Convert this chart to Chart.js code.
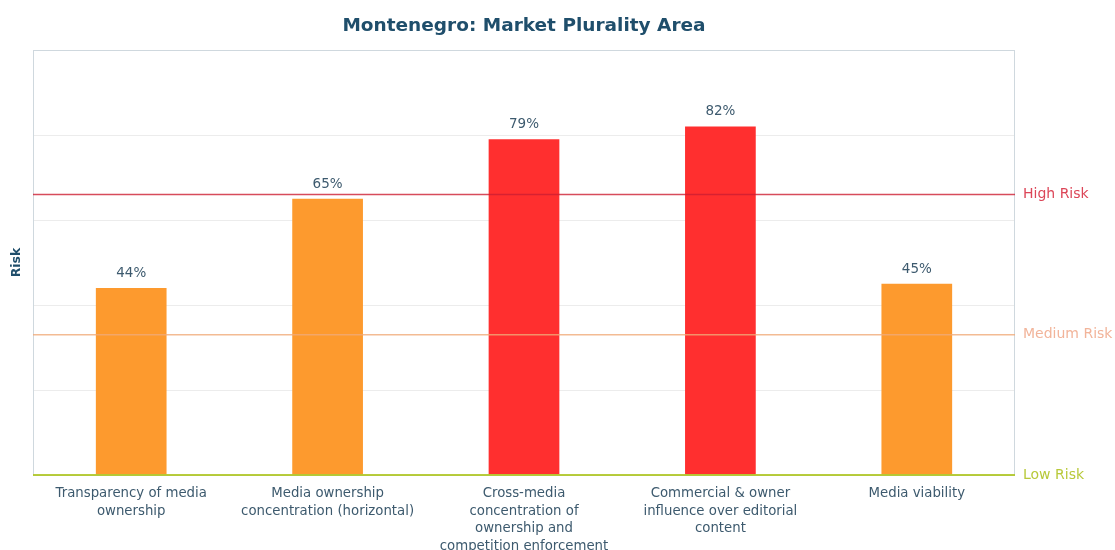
<!DOCTYPE html>
<html>
<head>
<meta charset="utf-8">
<script src="https://cdn.jsdelivr.net/npm/chart.js@4"></script>
<style>
  html, body { margin: 0; padding: 0; background: #fff; }
  #wrap { width: 1115px; height: 550px; }
</style>
</head>
<body>
<div id="wrap"><canvas id="riskChart"></canvas></div>
<script>
const categories = [
    ['Transparency of media', 'ownership'],
    ['Media ownership', 'concentration (horizontal)'],
    ['Cross-media', 'concentration of', 'ownership and', 'competition enforcement'],
    ['Commercial & owner', 'influence over editorial', 'content'],
    ['Media viability']
];
const riskValues = [44, 65, 79, 82, 45];
const thresholdNames = ['Low Risk', 'Medium Risk', 'High Risk'];
const thresholdValues = [0, 33, 66];
const chartTitle = 'Montenegro: Market Plurality Area';

const thresholdColors = {
    'Low Risk': { line: 'rgba(176, 200, 40, 0.9)', text: '#b8c93a', width: 2 },
    'Medium Risk': { line: 'rgba(240, 170, 120, 0.8)', text: '#f2b49a', width: 1.5 },
    'High Risk': { line: 'rgba(205, 30, 50, 0.8)', text: '#dc4658', width: 1.5 }
};
const barColor = v => v >= 66 ? '#ff2f2f' : (v >= 33 ? '#fd9a2e' : '#b5cc2e');
const FONT = '"DejaVu Sans", sans-serif';

const riskLines = {
    id: 'riskLines',
    beforeDatasetsDraw(chart) {
        const { ctx, chartArea: a } = chart;
        ctx.save();
        ctx.strokeStyle = '#cfd8de';
        ctx.lineWidth = 1;
        ctx.strokeRect(a.left + 0.5, a.top + 0.5, a.right - a.left - 1, a.bottom - a.top);
        // title centred over the plot area
        ctx.fillStyle = '#1f4e6b';
        ctx.font = 'bold 18.5px ' + FONT;
        ctx.textAlign = 'center';
        ctx.textBaseline = 'middle';
        ctx.fillText(chartTitle, (a.left + a.right) / 2, 26);
        ctx.restore();
    },
    afterDatasetsDraw(chart) {
        const { ctx, chartArea: a, scales: { y } } = chart;
        ctx.save();
        thresholdNames.forEach((name, i) => {
            const st = thresholdColors[name];
            const py = y.getPixelForValue(thresholdValues[i]);
            ctx.strokeStyle = st.line;
            ctx.lineWidth = st.width;
            ctx.beginPath();
            ctx.moveTo(a.left, py);
            ctx.lineTo(a.right, py);
            ctx.stroke();
            ctx.fillStyle = st.text;
            ctx.font = '14px ' + FONT;
            ctx.textAlign = 'left';
            ctx.textBaseline = 'middle';
            ctx.fillText(name, a.right + 8, py);
        });
        // value labels
        const meta = chart.getDatasetMeta(0);
        ctx.fillStyle = '#3d5a6e';
        ctx.font = '13.5px ' + FONT;
        ctx.textAlign = 'center';
        ctx.textBaseline = 'bottom';
        meta.data.forEach((bar, i) => {
            ctx.fillText(riskValues[i] + '%', bar.x, bar.y - 8);
        });
        ctx.restore();
    }
};

new Chart(document.getElementById('riskChart'), {
    type: 'bar',
    data: {
        labels: categories,
        datasets: [{
            label: 'Risk',
            data: riskValues,
            backgroundColor: riskValues.map(barColor),
            categoryPercentage: 1,
            barPercentage: 0.36
        }]
    },
    options: {
        responsive: true,
        maintainAspectRatio: false,
        animation: false,
        layout: { padding: { left: 9, right: 100, top: 50, bottom: 0 } },
        plugins: {
            legend: { display: false },
            tooltip: { enabled: false },
            title: { display: false }
        },
        scales: {
            x: {
                grid: { display: false },
                border: { display: false },
                ticks: {
                    color: '#3d5a6e',
                    font: { family: FONT, size: 13.3, lineHeight: 1.32 },
                    maxRotation: 0,
                    autoSkip: false,
                    padding: 2
                },
                afterFit(scale) { scale.height = 75; }
            },
            y: {
                min: 0,
                max: 100,
                ticks: { display: false, stepSize: 20 },
                grid: { color: '#ececec', drawTicks: false },
                border: { display: false },
                title: {
                    display: true,
                    text: 'Risk',
                    color: '#1f4e6b',
                    font: { family: FONT, size: 12.5, weight: 'bold' },
                    padding: 0
                },
                afterFit(scale) { scale.width = 24; }
            }
        }
    },
    plugins: [riskLines]
});
</script>
</body>
</html>
